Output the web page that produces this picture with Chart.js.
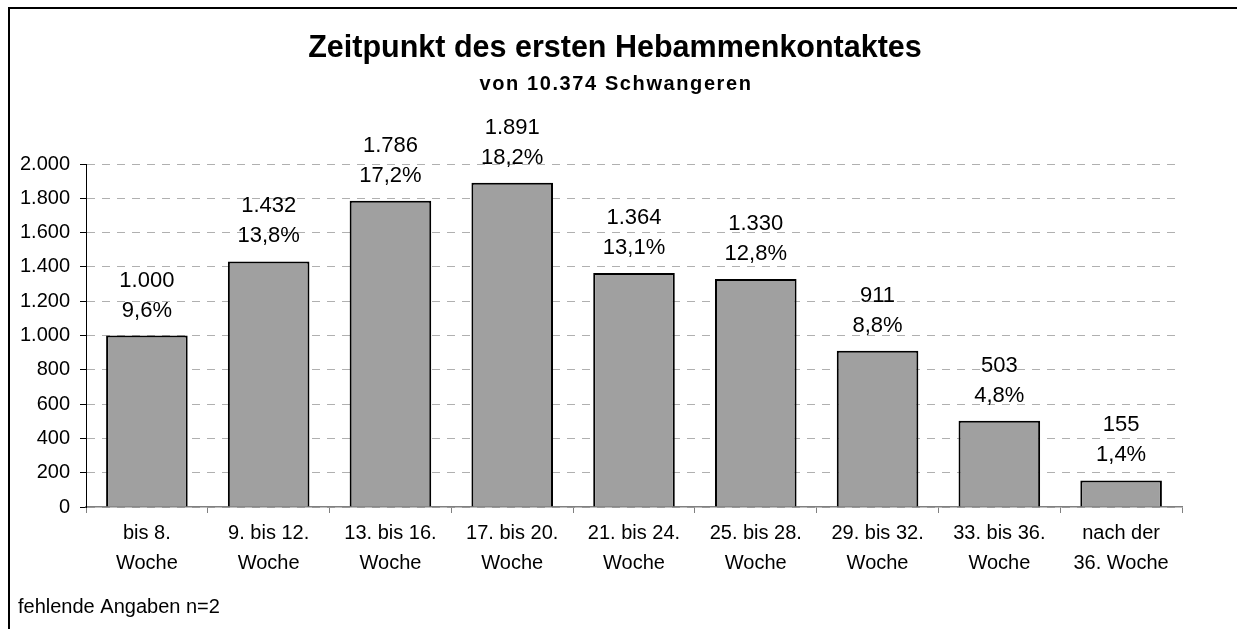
<!DOCTYPE html>
<html>
<head>
<meta charset="utf-8">
<script src="https://cdn.jsdelivr.net/npm/chart.js@4/dist/chart.umd.min.js"></script>
<style>
  html, body { margin: 0; padding: 0; background: #fff; }
  #wrap { width: 1237px; height: 629px; position: relative; }
</style>
</head>
<body>
<div id="wrap"><canvas id="c" width="1237" height="629"></canvas></div>
<script>
const categories = [
  ['bis 8.', 'Woche'],
  ['9. bis 12.', 'Woche'],
  ['13. bis 16.', 'Woche'],
  ['17. bis 20.', 'Woche'],
  ['21. bis 24.', 'Woche'],
  ['25. bis 28.', 'Woche'],
  ['29. bis 32.', 'Woche'],
  ['33. bis 36.', 'Woche'],
  ['nach der', '36. Woche']
];
const counts = [1000, 1432, 1786, 1891, 1364, 1330, 911, 503, 155];
const percentLabels = ['9,6%', '13,8%', '17,2%', '18,2%', '13,1%', '12,8%', '8,8%', '4,8%', '1,4%'];
const yTicks = [0, 200, 400, 600, 800, 1000, 1200, 1400, 1600, 1800, 2000];
const titleText = 'Zeitpunkt des ersten Hebammenkontaktes';
const subtitleText = 'von 10.374 Schwangeren';
const footnoteText = 'fehlende Angaben n=2';

const FONT = '"Liberation Sans", Arial, sans-serif';
const fmt = v => v.toLocaleString('de-DE');

const decor = {
  id: 'decor',
  beforeDraw(chart) {
    const ctx = chart.ctx;
    ctx.save();
    ctx.fillStyle = '#fff';
    ctx.fillRect(0, 0, chart.width, chart.height);
    ctx.strokeStyle = '#000';
    ctx.lineWidth = 2;
    ctx.strokeRect(9, 8, 3000, 3000);
    ctx.restore();
  },
  afterDraw(chart) {
    const ctx = chart.ctx;
    ctx.save();
    ctx.fillStyle = '#000';
    ctx.textAlign = 'center';
    ctx.textBaseline = 'alphabetic';
    ctx.font = 'bold 30.5px ' + FONT;
    ctx.fillText(titleText, 615, 57);
    ctx.font = 'bold 20px ' + FONT;
    if ('letterSpacing' in ctx) ctx.letterSpacing = '1.6px';
    ctx.fillText(subtitleText, 616, 90);
    if ('letterSpacing' in ctx) ctx.letterSpacing = '0px';
    ctx.textAlign = 'left';
    ctx.font = '20px ' + FONT;
    ctx.fillText(footnoteText, 18, 613);
    ctx.restore();
  },
  afterDatasetsDraw(chart) {
    const ctx = chart.ctx;
    const meta = chart.getDatasetMeta(0);
    ctx.save();
    ctx.fillStyle = '#000';
    ctx.textAlign = 'center';
    ctx.textBaseline = 'alphabetic';
    ctx.font = '22px ' + FONT;
    meta.data.forEach((bar, i) => {
      ctx.fillText(fmt(counts[i]), bar.x, bar.y - 49);
      ctx.fillText(percentLabels[i], bar.x, bar.y - 19);
    });
    ctx.restore();
  }
};

new Chart(document.getElementById('c'), {
  type: 'bar',
  data: {
    labels: categories,
    datasets: [{
      data: counts,
      backgroundColor: '#a0a0a0',
      borderColor: '#000',
      borderWidth: 2,
      barPercentage: 0.67,
      categoryPercentage: 1.0,
      clip: false
    }]
  },
  options: {
    responsive: false,
    animation: false,
    devicePixelRatio: 1,
    layout: { padding: { top: 164, right: 55, left: 0, bottom: 0 } },
    plugins: {
      legend: { display: false },
      title: { display: false },
      tooltip: { enabled: false }
    },
    scales: {
      x: {
        grid: {
          display: true,
          drawOnChartArea: false,
          drawTicks: true,
          tickLength: 6,
          tickColor: '#808080',
          offset: true
        },
        border: { display: true, color: '#808080', width: 1.5 },
        ticks: {
          color: '#000',
          font: { family: FONT, size: 20, lineHeight: 1.5 },
          padding: 5,
          maxRotation: 0,
          autoSkip: false
        },
        afterFit(scale) { scale.height = 122; }
      },
      y: {
        min: 0,
        max: 2000,
        afterBuildTicks(scale) { scale.ticks = yTicks.map(v => ({ value: v })); },
        grid: {
          color: '#b0b0b0',
          lineWidth: 1,
          drawTicks: true,
          tickLength: 6,
          tickColor: '#000',
          tickBorderDash: [],
          tickWidth: 1
        },
        border: { display: true, color: '#000', width: 1, dash: [8, 7] },
        ticks: {
          color: '#000',
          font: { family: FONT, size: 20 },
          padding: 10,
          callback: v => fmt(v)
        },
        afterFit(scale) { scale.width = 86; }
      }
    }
  },
  plugins: [decor]
});
</script>
</body>
</html>
